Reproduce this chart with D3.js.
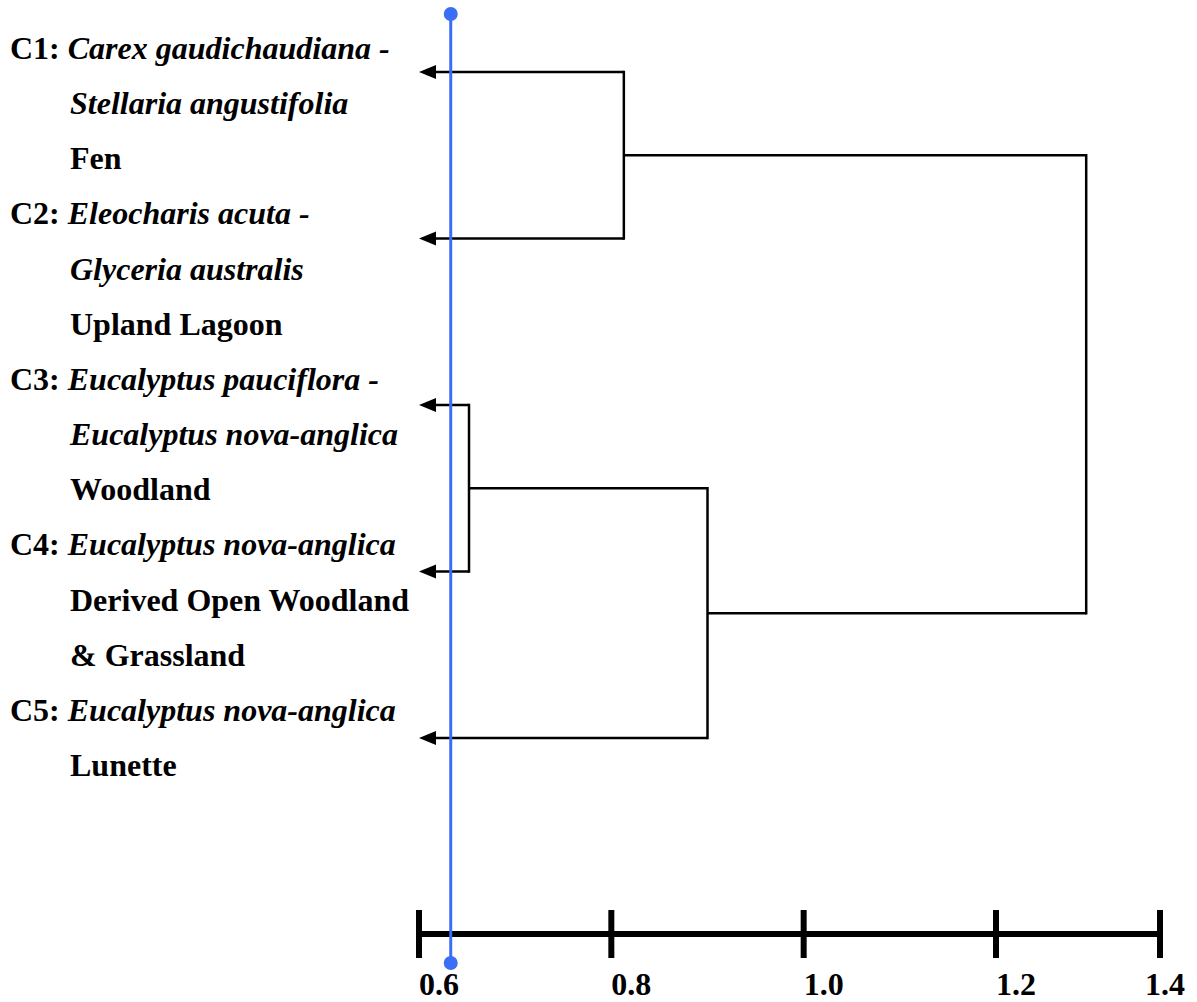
<!DOCTYPE html>
<html>
<head>
<meta charset="utf-8">
<script src="https://cdn.jsdelivr.net/npm/d3@7"></script>
<style>
  body { margin: 0; background: #fff; }
  svg { display: block; }
  text { font-family: "Liberation Serif", "Times New Roman", serif; font-weight: bold; }
</style>
</head>
<body>
<div id="chart"></div>
<script>
// leaves (clusters) top to bottom
const leafCodes = ["C1", "C2", "C3", "C4", "C5"];
const speciesLines = [
  ["Carex gaudichaudiana -", "Stellaria angustifolia"],
  ["Eleocharis acuta -", "Glyceria australis"],
  ["Eucalyptus pauciflora -", "Eucalyptus nova-anglica"],
  ["Eucalyptus nova-anglica"],
  ["Eucalyptus nova-anglica"]
];
const habitatLines = [
  ["Fen"],
  ["Upland Lagoon"],
  ["Woodland"],
  ["Derived Open Woodland", "& Grassland"],
  ["Lunette"]
];

// merges (dissimilarity)
const nodeNames = ["C1C2", "C3C4", "C3C4C5", "all"];
const nodeChildren = [["C1", "C2"], ["C3", "C4"], ["C3C4", "C5"], ["C1C2", "C3C4C5"]];
const nodeHeights = [0.813, 0.652, 0.900, 1.31];

const leafHeight = 0.6;
const cutValue = 0.633;
const axisTicks = [0.6, 0.8, 1.0, 1.2, 1.4];

const width = 1197, height = 1002;

const svg = d3.select("#chart")
  .append("svg")
    .attr("width", width)
    .attr("height", height);

// scales
const x = d3.scaleLinear()
  .domain([0.6, 1.2, 1.4])
  .range([419, 996, 1160]);

const y = d3.scalePoint()
  .domain(leafCodes)
  .range([72, 738]);

// label rows (baselines)
const rowY = d3.scaleLinear().domain([0, 13]).range([59, 776]);

// node positions
const pos = {};
leafCodes.forEach(c => { pos[c] = { x: x(leafHeight), y: y(c), leaf: true }; });
nodeNames.forEach((n, i) => {
  const kids = nodeChildren[i];
  pos[n] = { x: x(nodeHeights[i]), y: d3.mean(kids, k => pos[k].y), leaf: false };
});

const tree = svg.append("g")
  .attr("fill", "none")
  .attr("stroke", "#000")
  .attr("stroke-width", 2.5);

nodeNames.forEach((n, i) => {
  const p = pos[n];
  const kids = nodeChildren[i];
  tree.append("line")
    .attr("x1", p.x).attr("x2", p.x)
    .attr("y1", pos[kids[0]].y).attr("y2", pos[kids[1]].y)
    .attr("stroke-linecap", "square");
  kids.forEach(k => {
    const c = pos[k];
    tree.append("line")
      .attr("x1", p.x).attr("y1", c.y)
      .attr("x2", c.leaf ? c.x + 14 : c.x).attr("y2", c.y);
  });
});

// arrowheads at leaves
svg.append("g").selectAll("path")
  .data(leafCodes)
  .join("path")
    .attr("d", d => `M${x(leafHeight)},${y(d)}L${x(leafHeight) + 17},${y(d) - 7}L${x(leafHeight) + 17},${y(d) + 7}Z`)
    .attr("fill", "#000");

// labels
const labels = svg.append("g").attr("font-size", 32).attr("fill", "#000");
let row = 0;
leafCodes.forEach((c, i) => {
  speciesLines[i].forEach((s, j) => {
    const t = labels.append("text")
      .attr("x", j === 0 ? 10 : 70)
      .attr("y", rowY(row));
    if (j === 0) t.append("tspan").text(c + ": ");
    t.append("tspan").attr("font-style", "italic").text(s);
    row++;
  });
  habitatLines[i].forEach(h => {
    labels.append("text")
      .attr("x", 70)
      .attr("y", rowY(row))
      .text(h);
    row++;
  });
});

// axis
const axisY = 934;
const axis = svg.append("g");
axis.append("line")
  .attr("x1", x(axisTicks[0])).attr("x2", x(axisTicks[axisTicks.length - 1]))
  .attr("y1", axisY).attr("y2", axisY)
  .attr("stroke", "#000").attr("stroke-width", 6);
axis.selectAll(".tick")
  .data(axisTicks)
  .join("line")
    .attr("x1", d => x(d)).attr("x2", d => x(d))
    .attr("y1", axisY - 24).attr("y2", axisY + 24)
    .attr("stroke", "#000").attr("stroke-width", 6);
axis.selectAll(".lbl")
  .data(axisTicks)
  .join("text")
    .attr("x", d => Math.min(x(d), width - 52))
    .attr("y", 995)
    .attr("font-size", 32)
    .text(d => d3.format(".1f")(d));

// cut line
const cut = svg.append("g").attr("fill", "#3a6ef5").attr("stroke", "#3a6ef5");
cut.append("line")
  .attr("x1", x(cutValue)).attr("x2", x(cutValue))
  .attr("y1", 14).attr("y2", 963)
  .attr("stroke-width", 3);
cut.append("circle").attr("cx", x(cutValue)).attr("cy", 14).attr("r", 7).attr("stroke", "none");
cut.append("circle").attr("cx", x(cutValue)).attr("cy", 963).attr("r", 7).attr("stroke", "none");
</script>
</body>
</html>
